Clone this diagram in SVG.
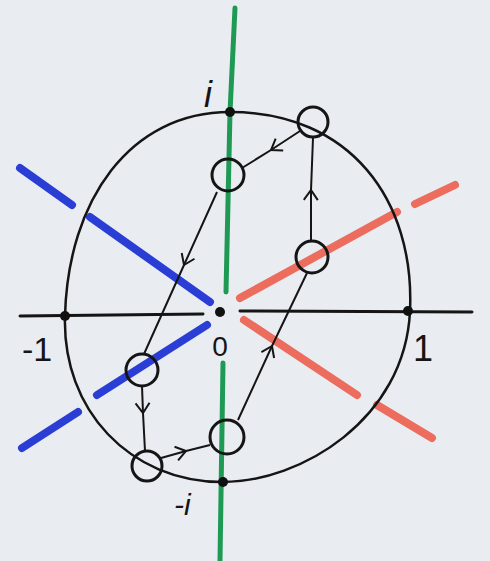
<svg xmlns="http://www.w3.org/2000/svg" width="490" height="561" viewBox="0 0 490 561">
<defs>
<style>
.bg{fill:#e9edf1}
.green{stroke:#1f9a55;stroke-width:5;fill:none;stroke-linecap:round}
.blue{stroke:#2a3ed6;stroke-width:8;fill:none;stroke-linecap:round}
.red{stroke:#ec6d5e;stroke-width:8;fill:none;stroke-linecap:round}
.axis{stroke:#151515;stroke-width:3;fill:none;stroke-linecap:round}
.curve{stroke:#151515;stroke-width:2.5;fill:none}
.node{stroke:#151515;stroke-width:3;fill:none}
.dot{fill:#111}
.path{stroke:#151515;stroke-width:2;fill:none;marker-mid:url(#chev)}
.lbl{font-family:"Liberation Sans","DejaVu Sans",sans-serif;fill:#151515}
</style>
<marker id="chev" viewBox="-12 -9 14 18" markerWidth="14" markerHeight="18" refX="0" refY="0" orient="auto" markerUnits="userSpaceOnUse">
<path d="M-10,-7 L0,0 L-10,7" stroke="#151515" stroke-width="2" fill="none"/>
</marker>
</defs>
<rect class="bg" x="0" y="0" width="490" height="561"/>
<g id="lines">
<path class="green" d="M235,8 L230,112 L226,292"/>
<path class="green" d="M223,363 L220,561"/>
<path class="blue" d="M20,168 L72,205 M90,217 L210,302"/>
<path class="blue" d="M207,325 L97,395 M78,412 L22,448"/>
<path class="red" d="M240,298 L397,212 M415,204 L455,185"/>
<path class="red" d="M244,320 L357,395 M377,405 L432,438"/>
<path class="axis" d="M20,316 L203,314 M240,311 L472,312"/>
<path class="curve" d="M230,112 C350,112 415,200 410,311 C405,420 300,482 223,482 C130,482 62,410 65,316 C68,200 130,112 230,112 Z"/>
</g>
<g id="connectors">
<path class="path" d="M300,131 L271,150 L242,168"/>
<path class="path" d="M217,192 L184,265 L144,354"/>
<path class="path" d="M142,386 L143,413 L145,451"/>
<path class="path" d="M161,458 L186,451 L210,445"/>
<path class="path" d="M238,420 L272,346 L307,273"/>
<path class="path" d="M311,241 L311,190 L313,138"/>
</g>
<g id="node-i"><circle class="dot" cx="230" cy="112" r="5"/><text class="lbl" x="204" y="107" font-size="36" font-style="italic">i</text></g>
<g id="node-minus1"><circle class="dot" cx="65" cy="316" r="5"/><text class="lbl" x="22" y="361" font-size="34">-1</text></g>
<g id="node-1"><circle class="dot" cx="408" cy="311" r="5"/><text class="lbl" x="413" y="361" font-size="36">1</text></g>
<g id="node-origin"><circle class="dot" cx="220" cy="312" r="5"/><text class="lbl" x="220" y="356" font-size="28" text-anchor="middle">0</text></g>
<g id="node-minus-i"><circle class="dot" cx="223" cy="482" r="5"/><text class="lbl" x="174" y="515" font-size="30" font-style="italic">-i</text></g>
<g id="c1"><circle class="node" cx="313" cy="122" r="15"/></g>
<g id="c2"><circle class="node" cx="228" cy="175" r="16"/></g>
<g id="c3"><circle class="node" cx="312" cy="257" r="16"/></g>
<g id="c4"><circle class="node" cx="142" cy="370" r="16"/></g>
<g id="c5"><circle class="node" cx="147" cy="466" r="15"/></g>
<g id="c6"><circle class="node" cx="227" cy="437" r="17"/></g>
</svg>
